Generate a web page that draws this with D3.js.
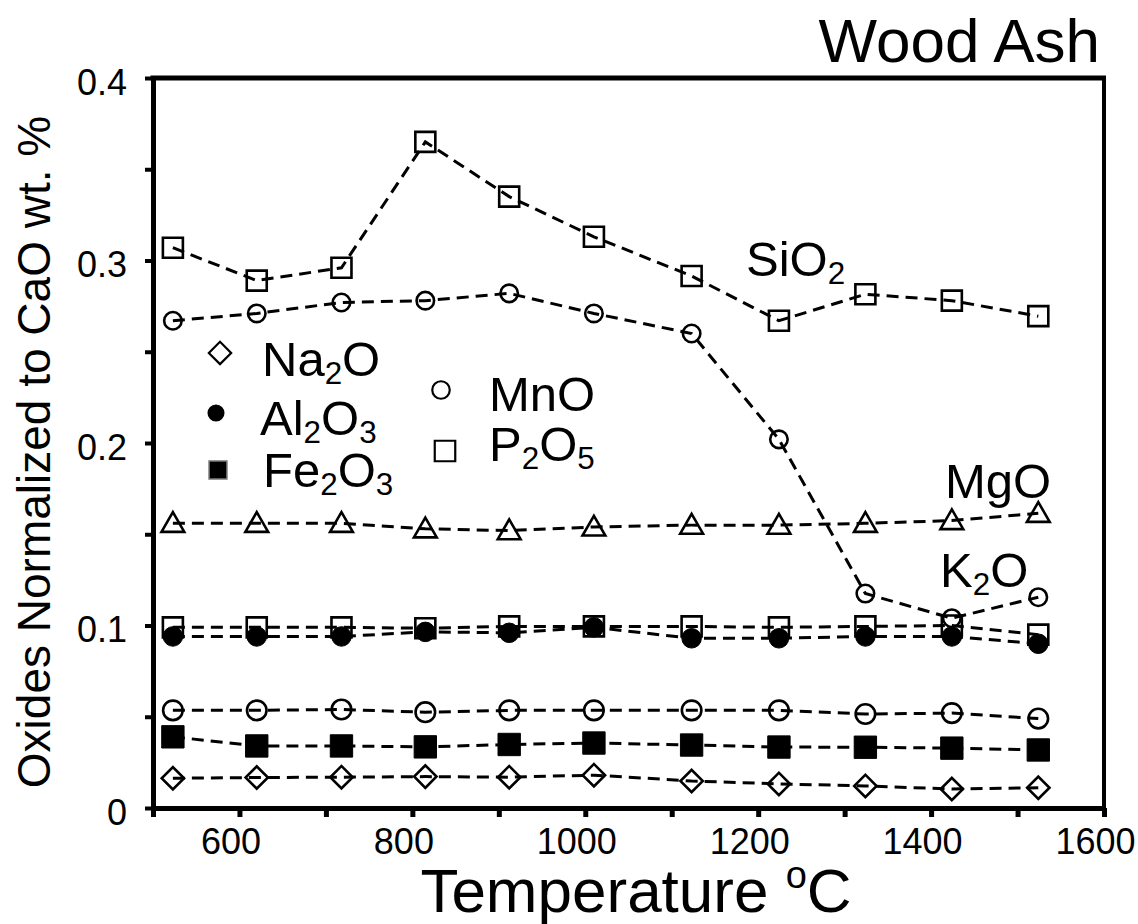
<!DOCTYPE html>
<html>
<head>
<meta charset="utf-8">
<script src="https://cdn.jsdelivr.net/npm/d3@7"></script>
<style>
  body { margin: 0; background: #fff; }
  text { font-family: "Liberation Sans", Arial, sans-serif; fill: #000; }
  .axis text { font-size: 36px; }
  .axis path, .axis line { stroke: #000; }
  .lab { font-size: 49px; }
</style>
</head>
<body>
<div id="chart"></div>
<script>
(function woodash() {

  var temps = [523, 620, 718, 815, 912, 1010, 1123, 1224, 1324, 1424, 1524];

  var sio2  = [0.307, 0.289, 0.296, 0.365, 0.335, 0.313, 0.2915, 0.267, 0.2815, 0.278, 0.2695];
  var k2o   = [0.267, 0.271, 0.277, 0.278, 0.282, 0.271, 0.260, 0.202, 0.1175, 0.104, 0.1155];
  var mgo   = [0.156, 0.156, 0.156, 0.153, 0.152, 0.154, 0.155, 0.155, 0.156, 0.1575, 0.1615];
  var p2o5  = [0.099, 0.099, 0.099, 0.0985, 0.0995, 0.0995, 0.0995, 0.099, 0.0995, 0.1, 0.095];
  var al2o3 = [0.094, 0.094, 0.094, 0.0965, 0.096, 0.099, 0.093, 0.093, 0.094, 0.094, 0.090];
  var mno   = [0.0535, 0.0535, 0.054, 0.0525, 0.0535, 0.0535, 0.0535, 0.0535, 0.0515, 0.052, 0.049];
  var fe2o3 = [0.039, 0.034, 0.034, 0.0335, 0.0348, 0.0356, 0.0345, 0.0334, 0.0333, 0.0328, 0.0318];
  var na2o  = [0.0163, 0.0167, 0.0169, 0.0172, 0.0169, 0.018, 0.0148, 0.0132, 0.0121, 0.0104, 0.0111];

  var xTicks = [500, 600, 700, 800, 900, 1000, 1100, 1200, 1300, 1400, 1500, 1600];
  var yTicks = [0, 0.05, 0.1, 0.15, 0.2, 0.25, 0.3, 0.35, 0.4];

  var margin = { top: 78, right: 34, bottom: 116, left: 153 },
    width = 1138 - margin.left - margin.right,
    height = 924 - margin.top - margin.bottom;

  var x = d3.scaleLinear().domain([500, 1600]).range([0, width]);
  var y = d3.scaleLinear().domain([0, 0.4]).range([height, 0]);

  var svg = d3.select("#chart").append("svg")
    .attr("width", 1138)
    .attr("height", 924);

  var g = svg.append("g")
    .attr("transform", "translate(" + margin.left + "," + margin.top + ")");

  // series: marker shape, size, filled
  var series = [
    { name: "SiO2", vals: sio2, shape: d3.symbolSquare, size: 400, fill: false },
    { name: "K2O", vals: k2o, shape: d3.symbolCircle, size: 240, fill: false },
    { name: "MgO", vals: mgo, shape: d3.symbolTriangle, size: 225, fill: false },
    { name: "P2O5", vals: p2o5, shape: d3.symbolSquare, size: 400, fill: false },
    { name: "Al2O3", vals: al2o3, shape: d3.symbolCircle, size: 300, fill: true },
    { name: "MnO", vals: mno, shape: d3.symbolCircle, size: 300, fill: false },
    { name: "Fe2O3", vals: fe2o3, shape: d3.symbolSquare, size: 500, fill: true },
    { name: "Na2O", vals: na2o, shape: "diamond", size: 250, fill: false }
  ];

  var line = d3.line()
    .x(function(d) { return x(d[0]); })
    .y(function(d) { return y(d[1]); });

  function symPath(s) {
    if (s.shape === "diamond") return d3.symbol(d3.symbolSquare, s.size)();
    return d3.symbol(s.shape, s.size)();
  }

  series.forEach(function(s) {
    var pts = temps.map(function(t, i) { return [t, s.vals[i]]; });

    g.append("path")
      .datum(pts)
      .attr("fill", "none")
      .attr("stroke", "#000")
      .attr("stroke-width", 3)
      .attr("stroke-dasharray", "12,7")
      .attr("d", line);

    g.selectAll(null)
      .data(pts)
      .enter()
      .append("path")
      .attr("d", symPath(s))
      .attr("transform", function(d) {
        var tr = "translate(" + x(d[0]) + "," + y(d[1]) + ")";
        if (s.shape === "diamond") tr += " rotate(45)";
        if (s.shape === d3.symbolTriangle) tr += " translate(0,2)";
        return tr;
      })
      .attr("fill", s.fill ? "#000" : "none")
      .attr("stroke", "#000")
      .attr("stroke-width", s.fill ? 1 : 2.6);
  });

  // axes
  var xAxis = g.append("g")
    .attr("class", "axis")
    .attr("transform", "translate(0," + height + ")")
    .call(d3.axisBottom(x)
      .tickValues(xTicks)
      .tickSize(9)
      .tickSizeOuter(0)
      .tickPadding(11)
      .tickFormat(function(d) { return d % 200 === 0 && d > 500 ? d : ""; }));
  xAxis.select(".domain").attr("stroke-width", 5);
  xAxis.selectAll(".tick line").attr("stroke-width", 5);
  xAxis.selectAll(".tick text").attr("dx", -9);

  var yAxis = g.append("g")
    .attr("class", "axis")
    .call(d3.axisLeft(y)
      .tickValues(yTicks)
      .tickSize(8)
      .tickSizeOuter(0)
      .tickPadding(18)
      .tickFormat(function(d) {
        var k = Math.round(d * 100);
        if (k % 10 !== 0) return "";
        return k === 0 ? "0" : d3.format(".1f")(d);
      }));
  yAxis.select(".domain").attr("stroke-width", 5);
  yAxis.selectAll(".tick line").attr("stroke-width", 4);
  yAxis.selectAll(".tick text").attr("dy", "0.45em");

  // top and right frame
  g.append("line")
    .attr("x1", -2.5).attr("x2", width + 2)
    .attr("y1", 0).attr("y2", 0)
    .attr("stroke", "#000").attr("stroke-width", 5);
  g.append("line")
    .attr("x1", width).attr("x2", width)
    .attr("y1", 0).attr("y2", height)
    .attr("stroke", "#000").attr("stroke-width", 4);

  // chemical formula text with subscript digits
  function formula(sel, str, px) {
    var shift = 0;
    str.split(/(\d)/).forEach(function(part) {
      if (!part) return;
      var sub = /\d/.test(part);
      var want = sub ? px * 0.16 : 0;
      var ts = sel.append("tspan").text(part);
      if (want !== shift) ts.attr("dy", want - shift);
      if (sub) ts.attr("font-size", px * 0.64);
      shift = want;
    });
  }

  function label(px, py, str) {
    var t = svg.append("text").attr("class", "lab").attr("x", px).attr("y", py);
    formula(t, str, 49);
  }

  // legend
  var legend = [
    { name: "Na2O", s: series[7], mx: 220, my: 353, tx: 262, ty: 376 },
    { name: "Al2O3", s: series[4], mx: 216, my: 413, tx: 260, ty: 435 },
    { name: "Fe2O3", s: series[6], mx: 218, my: 470, tx: 263, ty: 487 },
    { name: "MnO", s: { shape: d3.symbolCircle, size: 240, fill: false }, mx: 441, my: 390, tx: 489, ty: 411 },
    { name: "P2O5", s: { shape: d3.symbolSquare, size: 420, fill: false }, mx: 445, my: 451, tx: 489, ty: 461 }
  ];

  legend.forEach(function(l) {
    var sz = l.s.size;
    if (l.name === "Fe2O3") sz = 320;
    if (l.name === "Al2O3") sz = 190;
    var p = l.s.shape === "diamond" ? d3.symbol(d3.symbolSquare, sz)() : d3.symbol(l.s.shape, sz)();
    svg.append("path")
      .attr("d", p)
      .attr("transform", "translate(" + l.mx + "," + l.my + ")" + (l.s.shape === "diamond" ? " rotate(45)" : ""))
      .attr("fill", l.s.fill ? "#000" : "none")
      .attr("stroke", l.name === "Fe2O3" ? "#777" : "#000")
      .attr("stroke-width", l.s.fill ? 1.5 : 2.2);
    label(l.tx, l.ty, l.name);
  });

  // series labels
  label(746, 276, "SiO2");
  label(945, 498, "MgO");
  label(940, 587, "K2O");

  // titles
  svg.append("text")
    .attr("x", 1100).attr("y", 62)
    .attr("text-anchor", "end")
    .attr("font-size", 62)
    .text("Wood Ash");

  var xt = svg.append("text")
    .attr("x", 636).attr("y", 912)
    .attr("text-anchor", "middle")
    .attr("font-size", 62);
  xt.append("tspan").text("Temperature ");
  xt.append("tspan").attr("font-size", 38).attr("dy", -24).text("o");
  xt.append("tspan").attr("dy", 24).text("C");

  svg.append("text")
    .attr("transform", "translate(50,452) rotate(-90)")
    .attr("text-anchor", "middle")
    .attr("font-size", 46)
    .text("Oxides Normalized to CaO wt. %");

})();
</script>
</body>
</html>
